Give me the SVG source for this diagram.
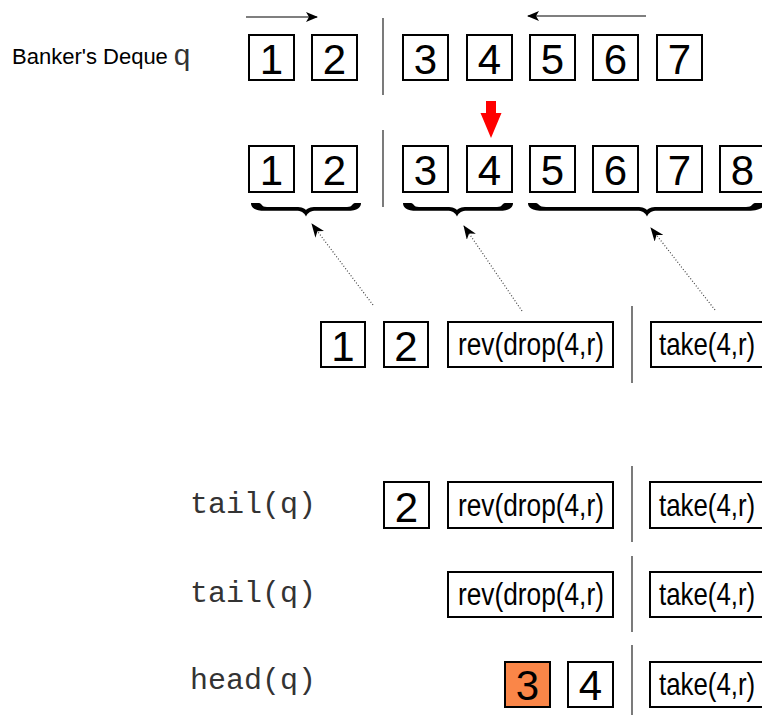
<svg xmlns="http://www.w3.org/2000/svg" width="762" height="715" viewBox="0 0 762 715">
  <style>
    .cell { fill: #fff; stroke: #000; stroke-width: 2; }
    .open { fill: #fff; stroke: #000; stroke-width: 2; }
    .hot { fill: #FA8648; stroke: #000; stroke-width: 2; }
    .digit { font-family: "Liberation Sans", Arial, sans-serif; font-size: 42px; text-anchor: middle; fill: #000; }
    .expr { font-family: "Liberation Sans", Arial, sans-serif; font-size: 27.5px; fill: #000; }
    .code { font-family: "Liberation Mono", "Courier New", monospace; font-size: 30px; fill: #333; }
    .title { font-family: "Liberation Sans", Arial, sans-serif; font-size: 22px; fill: #000; }
    .sep { stroke: #333; stroke-width: 1.3; fill: none; }
    .flow { stroke: #000; stroke-width: 1.2; fill: none; }
    .dots { stroke: #444; stroke-width: 1.2; stroke-dasharray: 1 2; fill: none; }
    .brace { fill: #000; }
  </style>
  <defs>
    <marker id="head" viewBox="0 0 12 10" refX="11" refY="5" markerWidth="12" markerHeight="10" markerUnits="userSpaceOnUse" orient="auto">
      <path d="M0,0 L12,5 L0,10 L3,5 Z" fill="#000"/>
    </marker>
    <marker id="headBig" viewBox="0 0 14 11" refX="13" refY="5.5" markerWidth="14" markerHeight="11" markerUnits="userSpaceOnUse" orient="auto">
      <path d="M0,0 L14,5.5 L0,11 L4,5.5 Z" fill="#000"/>
    </marker>
  </defs>

  <!-- title -->
  <text class="title" x="12" y="64">Banker's Deque</text>
  <text x="173" y="65" font-family="Liberation Mono, Courier New, monospace" font-size="30" fill="#333">q</text>

  <!-- row A: front 1 2 | rear 3..7 -->
  <g id="a1"><rect class="cell" x="249" y="35" width="45" height="45"/><text class="digit" x="271.5" y="74">1</text></g>
  <g id="a2"><rect class="cell" x="312" y="35" width="45" height="45"/><text class="digit" x="334.5" y="74">2</text></g>
  <g id="a3"><rect class="cell" x="403" y="35" width="45" height="45"/><text class="digit" x="425.5" y="74">3</text></g>
  <g id="a4"><rect class="cell" x="467" y="35" width="45" height="45"/><text class="digit" x="489.5" y="74">4</text></g>
  <g id="a5"><rect class="cell" x="530" y="35" width="45" height="45"/><text class="digit" x="552.5" y="74">5</text></g>
  <g id="a6"><rect class="cell" x="593" y="35" width="45" height="45"/><text class="digit" x="615.5" y="74">6</text></g>
  <g id="a7"><rect class="cell" x="657" y="35" width="45" height="45"/><text class="digit" x="679.5" y="74">7</text></g>
  <line class="sep" x1="383" y1="18" x2="383" y2="95"/>

  <!-- row B: after snoc 8 -->
  <g id="b1"><rect class="cell" x="249" y="146" width="45" height="46"/><text class="digit" x="271.5" y="185">1</text></g>
  <g id="b2"><rect class="cell" x="312" y="146" width="45" height="46"/><text class="digit" x="334.5" y="185">2</text></g>
  <g id="b3"><rect class="cell" x="403" y="146" width="45" height="46"/><text class="digit" x="425.5" y="185">3</text></g>
  <g id="b4"><rect class="cell" x="467" y="146" width="45" height="46"/><text class="digit" x="489.5" y="185">4</text></g>
  <g id="b5"><rect class="cell" x="530" y="146" width="45" height="46"/><text class="digit" x="552.5" y="185">5</text></g>
  <g id="b6"><rect class="cell" x="593" y="146" width="45" height="46"/><text class="digit" x="615.5" y="185">6</text></g>
  <g id="b7"><rect class="cell" x="657" y="146" width="45" height="46"/><text class="digit" x="679.5" y="185">7</text></g>
  <g id="b8"><path class="open" d="M763,146 H720 V192 H763"/><text class="digit" x="742.5" y="185">8</text></g>
  <line class="sep" x1="383" y1="130" x2="383" y2="207"/>

  <!-- braces under row B -->
  <path class="brace" d="M251,203 L259,203 C262,203 261,207 267,207 L296,207 C302,207 305,208.5 306,210 C307,208.5 310,207 316,207 L347,207 C353,207 352,203 355,203 L361,203 C361,207 358,210.8 347,210.8 L316,210.8 C311,210.8 308,212.5 306,216.5 C304,212.5 301,210.8 296,210.8 L265,210.8 C254,210.8 251,207 251,203 Z"/>
  <path class="brace" d="M403,203 L411,203 C414,203 413,207 419,207 L447,207 C453,207 456,208.5 457,210 C458,208.5 461,207 467,207 L497,207 C503,207 502,203 505,203 L513,203 C513,207 510,210.8 499,210.8 L467,210.8 C462,210.8 459,212.5 457,216.5 C455,212.5 452,210.8 447,210.8 L417,210.8 C406,210.8 403,207 403,203 Z"/>
  <path class="brace" d="M528,203 L536,203 C539,203 538,207 546,207 L637,207 C643,207 646,208.5 647,210 C648,208.5 651,207 657,207 L746,207 C753,207 752,203 755,203 L764,203 C764,207 761,210.8 748,210.8 L657,210.8 C652,210.8 649,212.5 647,216.5 C645,212.5 642,210.8 637,210.8 L544,210.8 C531,210.8 528,207 528,203 Z"/>

  <!-- row C: lazy rotation -->
  <g id="c1"><rect class="cell" x="321" y="322" width="44" height="45"/><text class="digit" x="343" y="361">1</text></g>
  <g id="c2"><rect class="cell" x="384" y="322" width="44" height="45"/><text class="digit" x="406" y="361">2</text></g>
  <g id="c-rev"><rect class="cell" x="448" y="322" width="165" height="45"/><text class="expr" transform="translate(458,355) scale(0.955,1.12)">rev(drop(4,r)</text></g>
  <g id="c-take"><path class="open" d="M763,322 H651 V367 H763"/><text class="expr" transform="translate(659,355) scale(0.94,1.12)">take(4,r)</text></g>
  <line class="sep" x1="632" y1="306" x2="632" y2="383"/>

  <!-- tail(q) -->
  <text class="code" x="190" y="513">tail(q)</text>
  <g id="d2"><rect class="cell" x="384" y="482" width="45" height="46"/><text class="digit" x="406.5" y="522">2</text></g>
  <g id="d-rev"><rect class="cell" x="448" y="482" width="165" height="46"/><text class="expr" transform="translate(458,516) scale(0.955,1.12)">rev(drop(4,r)</text></g>
  <g id="d-take"><path class="open" d="M763,482 H650 V528 H763"/><text class="expr" transform="translate(659,516) scale(0.94,1.12)">take(4,r)</text></g>
  <line class="sep" x1="632" y1="466" x2="632" y2="542"/>

  <!-- tail(q) -->
  <text class="code" x="190" y="602">tail(q)</text>
  <g id="e-rev"><rect class="cell" x="448" y="572" width="165" height="45"/><text class="expr" transform="translate(458,605) scale(0.955,1.12)">rev(drop(4,r)</text></g>
  <g id="e-take"><path class="open" d="M763,572 H650 V617 H763"/><text class="expr" transform="translate(659,605) scale(0.94,1.12)">take(4,r)</text></g>
  <line class="sep" x1="632" y1="556" x2="632" y2="632"/>

  <!-- head(q) -->
  <text class="code" x="190" y="689">head(q)</text>
  <g id="f3"><rect class="hot" x="505" y="662" width="45" height="45"/><text class="digit" x="527.5" y="700">3</text></g>
  <g id="f4"><rect class="cell" x="568" y="662" width="45" height="45"/><text class="digit" x="590.5" y="700">4</text></g>
  <g id="f-take"><path class="open" d="M763,662 H650 V707 H763"/><text class="expr" transform="translate(659,695) scale(0.94,1.12)">take(4,r)</text></g>
  <line class="sep" x1="632" y1="645" x2="632" y2="715"/>

  <!-- connectors -->
  <g id="connectors">
    <line class="flow" x1="246" y1="17" x2="317" y2="17" marker-end="url(#head)"/>
    <line class="flow" x1="646" y1="16" x2="528" y2="16" marker-end="url(#head)"/>
    <path d="M486,101 L496,101 L496,113 L501.5,113 L491,138 L480.5,113 L486,113 Z" fill="#FF0000"/>
    <line class="dots" x1="373" y1="305" x2="312" y2="224" marker-end="url(#headBig)"/>
    <line class="dots" x1="522" y1="311" x2="464" y2="226" marker-end="url(#headBig)"/>
    <line class="dots" x1="715" y1="310" x2="651" y2="228" marker-end="url(#headBig)"/>
  </g>
</svg>
